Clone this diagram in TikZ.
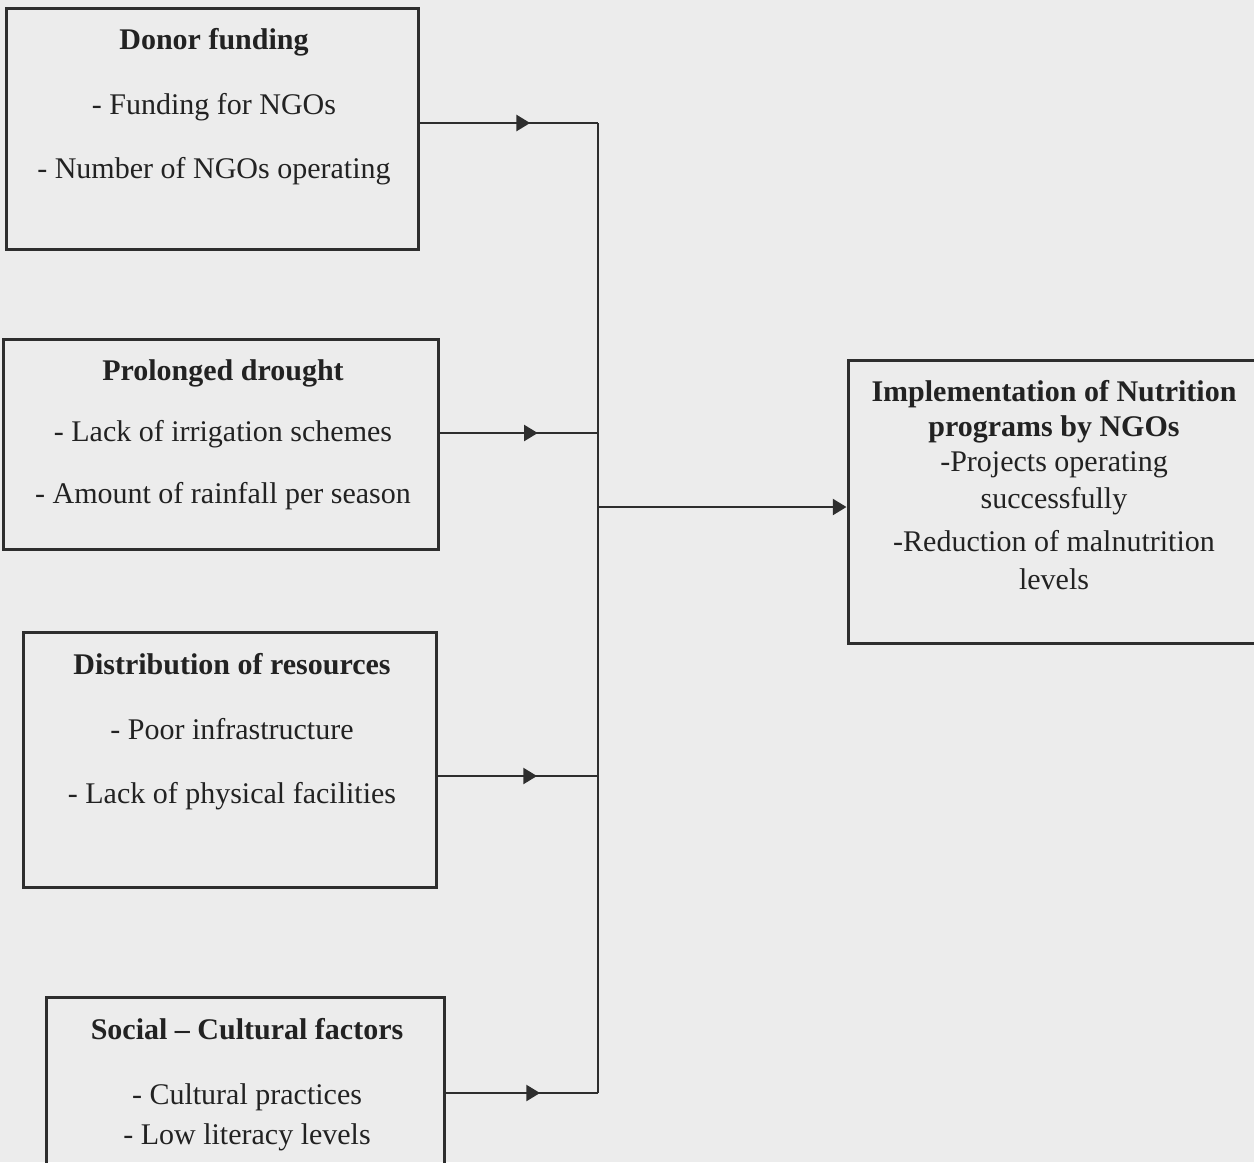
\documentclass[tikz,border=0pt]{standalone}
\usepackage{fontspec}
\setmainfont{Liberation Serif}
\usetikzlibrary{arrows.meta,decorations.markings}
\definecolor{Paper}{HTML}{ECECEC}
\definecolor{Ink}{HTML}{222222}
\definecolor{Frame}{HTML}{2E2E2E}
\tikzset{factorbox/.style={draw=Frame,line width=1.2pt,inner sep=0pt},
  boxtext/.style={align=center,inner sep=0pt,text=Ink,
    font=\fontsize{12}{14}\selectfont},
  wire/.style={draw=Frame,line width=1pt},
  feed/.style={wire,postaction={decorate},decoration={markings,
    mark=at position 0.62 with {\arrow{Triangle[length=5.5pt,width=6.4pt]}}}},
  edge/.style={wire,-{Triangle[length=5.5pt,width=6.4pt]}}}

\begin{document}
\begin{tikzpicture}[x=0.4pt,y=-0.4pt]
    \fill[Paper] (0,0) rectangle (1254,1162);
    \useasboundingbox (0,0) rectangle (1254,1162);
    % factor boxes
    \node[factorbox,minimum width=164.4pt,minimum height=96.4pt] (donor) at (212.5,128.5) {};
    \node[factorbox,minimum width=173.6pt,minimum height=84pt] (drought) at (221,444) {};
    \node[factorbox,minimum width=164.8pt,minimum height=102pt] (resources) at (230,759.5) {};
    \node[factorbox,minimum width=158.8pt,minimum height=80pt] (social) at (245.5,1097) {};
    \node[factorbox,minimum width=170pt,minimum height=113.2pt] (impl) at (1060.5,501.5) {};
    % texts
    \node[boxtext,anchor=north] (donortext) at (214,28)
      {\textbf{Donor funding}\\[11.8pt] - Funding for NGOs\\[11.8pt] - Number of NGOs operating};
    \node[boxtext,anchor=north] (droughttext) at (223,359)
      {\textbf{Prolonged drought}\\[10.6pt] - Lack of irrigation schemes\\[10.6pt] - Amount of rainfall per season};
    \node[boxtext,anchor=north] (resourcestext) at (232,653)
      {\textbf{Distribution of resources}\\[11.8pt] - Poor infrastructure\\[11.8pt] - Lack of physical facilities};
    \node[boxtext,anchor=north] (socialtext) at (247,1018)
      {\textbf{Social – Cultural factors}\\[12pt] - Cultural practices\\[2pt] - Low literacy levels};
    \node[boxtext,anchor=north] (impltext) at (1054,380)
      {\textbf{Implementation of Nutrition}\\ \textbf{programs by NGOs}\\ -Projects operating\\[0.8pt] successfully\\[3.2pt] -Reduction of malnutrition\\[1.2pt] levels};
    % junctions on the collecting line
    \coordinate (j1) at (598,123);
    \coordinate (j2) at (598,433);
    \coordinate (j3) at (598,776);
    \coordinate (j4) at (598,1093);
    \coordinate (out) at (598,507);
    \draw[feed] (donor.east |- j1) -- (j1);
    \draw[feed] (drought.east |- j2) -- (j2);
    \draw[feed] (resources.east |- j3) -- (j3);
    \draw[feed] (social.east |- j4) -- (j4);
    \draw[wire] (j1) -- (j4);
    \draw[edge] (out) -- (impl.west |- out);
\end{tikzpicture}
\end{document}
